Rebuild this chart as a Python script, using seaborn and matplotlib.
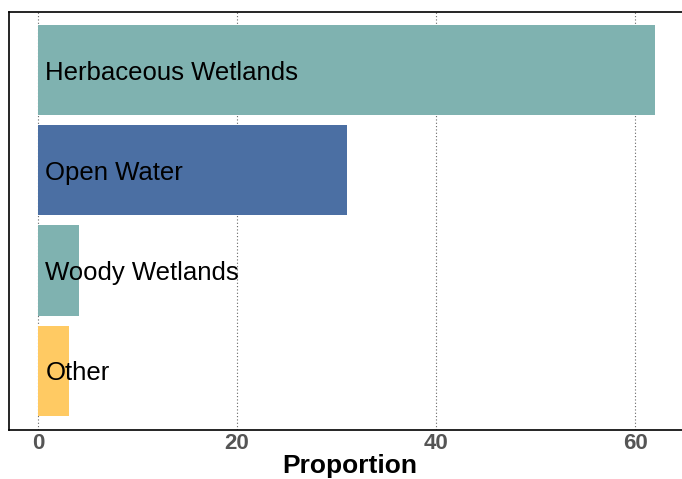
import matplotlib
matplotlib.use("Agg")
import matplotlib.pyplot as plt
import seaborn as sns
import pandas as pd

# land cover classes and their share (%)
categories = ["Herbaceous Wetlands", "Open Water", "Woody Wetlands", "Other"]
proportions = [62.0, 31.0, 4.1, 3.1]
bar_colors = ["#7FB2B0", "#4B6FA3", "#7FB2B0", "#FFCA63"]
x_ticks = [0, 20, 40, 60]

df = pd.DataFrame({"Category": categories, "Proportion": proportions})

sns.set_style("white")
plt.rcParams["font.family"] = ["Liberation Sans", "DejaVu Sans"]

fig = plt.figure(figsize=(6.82, 4.79), dpi=100)
ax = fig.add_axes([9 / 682, 49 / 479, 1.0, 418 / 479])

sns.barplot(
    data=df, x="Proportion", y="Category", hue="Category",
    palette=dict(zip(categories, bar_colors)), width=0.9,
    legend=False, ax=ax, saturation=1, linewidth=0,
)

# labels written inside each bar
for i, (cat, val) in enumerate(zip(categories, proportions)):
    ax.text(0.75, i + 0.03, cat, va="center", ha="left", fontsize=18.5, color="black")

ax.set_xlim(-2.9, 65.6)
ax.set_ylim(3.595, -0.585)
ax.set_xticks(x_ticks)
ax.set_yticks([])
ax.set_ylabel("")
ax.set_xlabel("Proportion", fontsize=19, fontweight="bold", color="black", labelpad=0)
ax.tick_params(axis="x", length=0, labelsize=16, labelcolor="#555555", pad=2)
for lab in ax.get_xticklabels():
    lab.set_fontweight("bold")

ax.grid(axis="x", linestyle=(0, (1, 2)), color="#666666", linewidth=0.8)
ax.set_axisbelow(True)
for side in ["left", "top", "bottom"]:
    ax.spines[side].set_color("black")
    ax.spines[side].set_linewidth(1.2)
ax.spines["right"].set_visible(False)

fig.savefig("out.png", dpi=100)
